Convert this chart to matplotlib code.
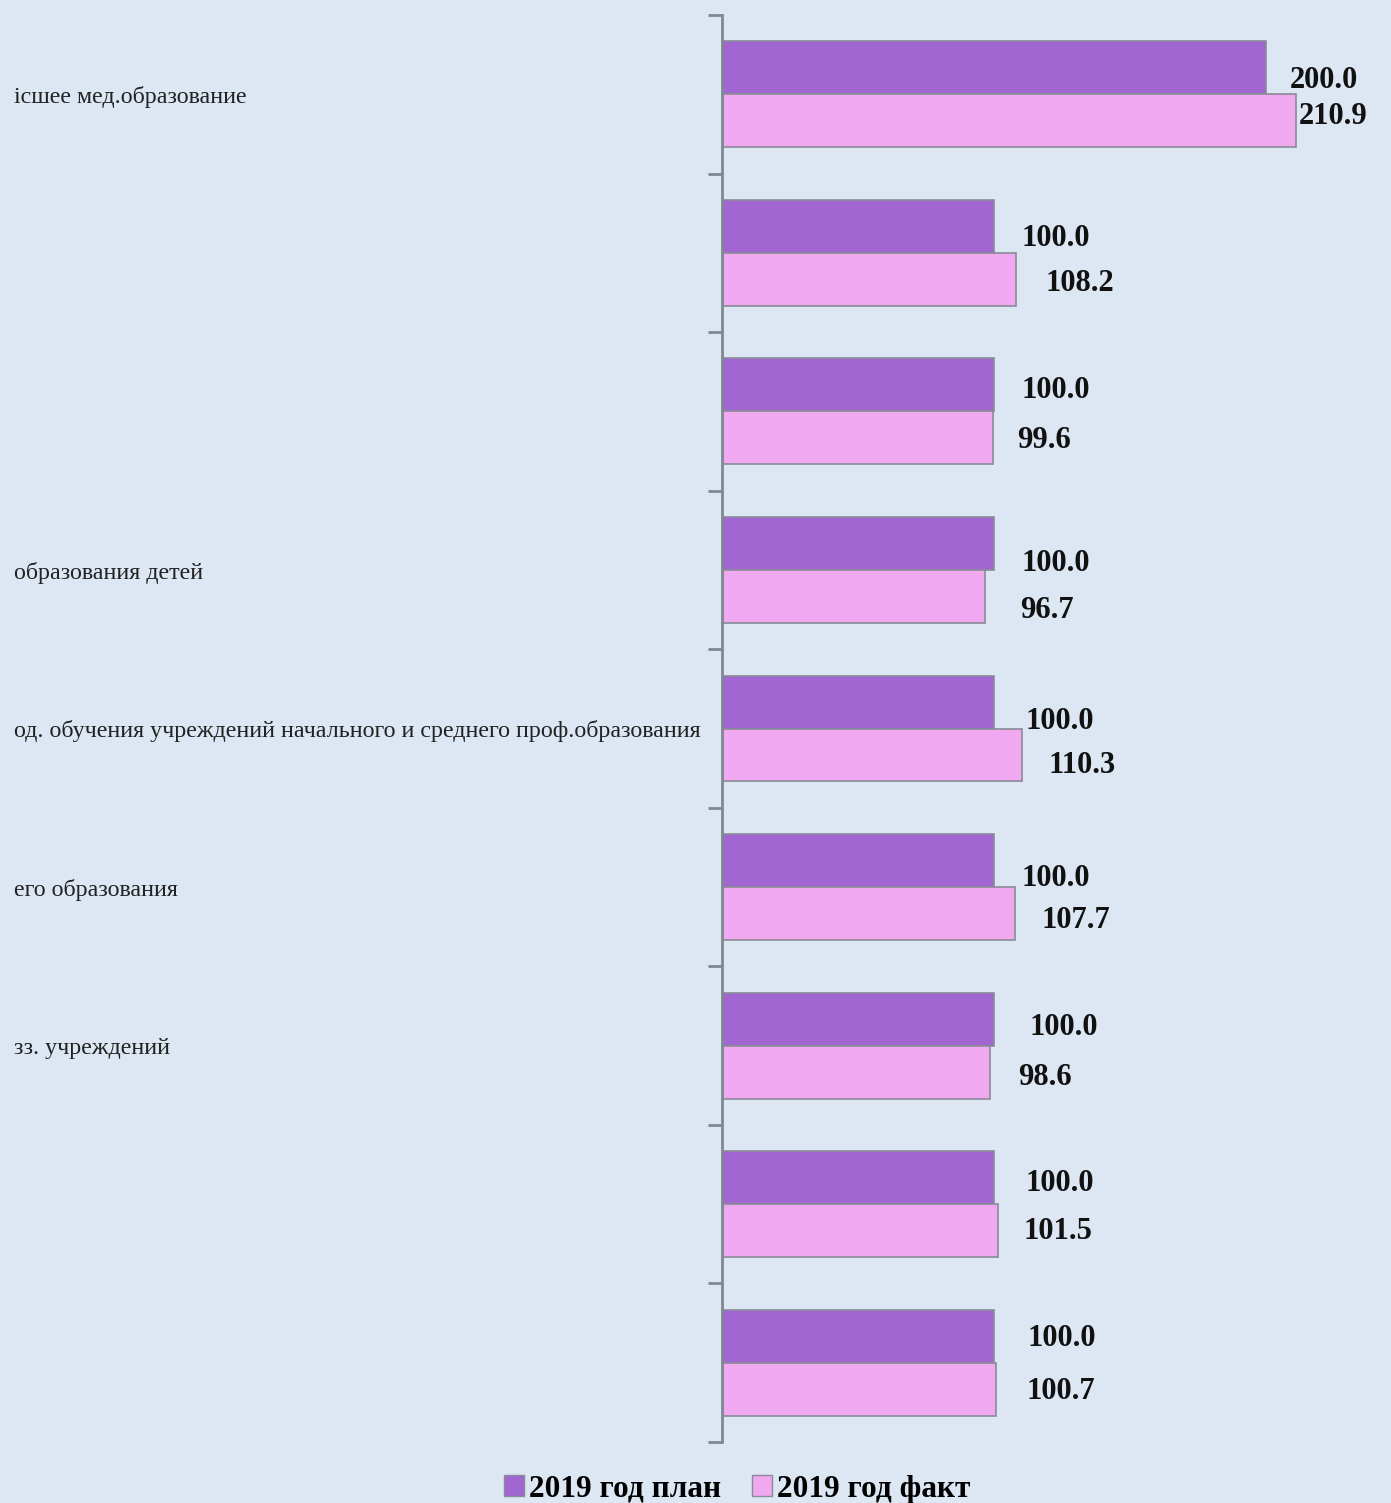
import matplotlib
matplotlib.use("Agg")
import matplotlib.pyplot as plt
import matplotlib.transforms as mtransforms
from matplotlib.patches import Patch

# Category labels (only the visible tail of each long label is shown)
categories = [
    "ісшее мед.образование",
    "",
    "",
    "образования детей",
    "од. обучения учреждений начального и среднего проф.образования",
    "его образования",
    "зз. учреждений",
    "",
    "",
]
plan_2019 = [200.0, 100.0, 100.0, 100.0, 100.0, 100.0, 100.0, 100.0, 100.0]
fact_2019 = [210.9, 108.2, 99.6, 96.7, 110.3, 107.7, 98.6, 101.5, 100.7]
series_names = ["2019 год план", "2019 год факт"]

# Hand-placed label offsets in pixels (dx to the right of the bar end,
# dy downward from the bar centre)
plan_dx = [24, 28, 28, 28, 31, 28, 36, 32, 34]
plan_dy = [13, 12, 6, 20, 19, 18, 8, 6, 2]
fact_dx = [3, 29, 24, 35, 26, 27, 28, 25, 31]
fact_dy = [-4, 4, 3, 14, 11, 7, 5, 1, 2]

BG = "#dce7f3"
PLAN_C = "#a266d2"
FACT_C = "#f0a8f0"
EDGE = "#8a8a98"

W, H, DPI = 1391, 1503, 100
fig = plt.figure(figsize=(W / DPI, H / DPI), dpi=DPI, facecolor=BG)

ax_left, ax_right = 722 / W, 1.0
ax_top, ax_bottom = 1 - 15 / H, 1 - 1442 / H
ax = fig.add_axes([ax_left, ax_bottom, ax_right - ax_left, ax_top - ax_bottom])
ax.set_facecolor(BG)

n = len(categories)
ypos = list(range(n))
bh = 0.334
px_per_unit = 2.72
ax.set_xlim(0, (W - 722) / px_per_unit)
ax.set_ylim(n - 0.5, -0.5)

ax.barh([y - bh / 2 for y in ypos], plan_2019, height=bh,
        color=PLAN_C, edgecolor=EDGE, linewidth=1.2)
ax.barh([y + bh / 2 for y in ypos], fact_2019, height=bh,
        color=FACT_C, edgecolor=EDGE, linewidth=1.2)

label_font = dict(family="Liberation Serif", fontsize=22, fontweight="bold",
                  color="#111111")
for i in range(n):
    ax.annotate(f"{plan_2019[i]:.1f}", xy=(plan_2019[i], i - bh / 2),
                xytext=(plan_dx[i], -plan_dy[i]), textcoords="offset pixels",
                ha="left", va="center", annotation_clip=False, **label_font)
    ax.annotate(f"{fact_2019[i]:.1f}", xy=(fact_2019[i], i + bh / 2),
                xytext=(fact_dx[i], -fact_dy[i]), textcoords="offset pixels",
                ha="left", va="center", annotation_clip=False, **label_font)

# Axis styling: only the left spine with ticks at category boundaries
for side in ("top", "right", "bottom"):
    ax.spines[side].set_visible(False)
ax.spines["left"].set_color("#7f8790")
ax.spines["left"].set_linewidth(2)
ax.set_xticks([])
ax.set_yticks([k - 0.5 for k in range(n + 1)])
ax.set_yticklabels([])
ax.tick_params(axis="y", length=10, width=2, color="#7f8790", direction="out")

# Category text, left-aligned near the figure edge
trans = mtransforms.blended_transform_factory(fig.transFigure, ax.transData)
trans = trans + mtransforms.ScaledTranslation(0, -3 / DPI, fig.dpi_scale_trans)
for i, lab in enumerate(categories):
    if lab:
        ax.text(14 / W, i, lab, transform=trans, ha="left", va="center",
                family="Liberation Serif", fontsize=17.3, color="#222222",
                clip_on=False)

handles = [Patch(facecolor=PLAN_C, edgecolor=EDGE, label=series_names[0]),
           Patch(facecolor=FACT_C, edgecolor=EDGE, label=series_names[1])]
fig.legend(handles=handles, loc="center", bbox_to_anchor=(737 / W, 1 - 1489 / H),
           ncol=2, frameon=False, handlelength=0.65, handleheight=0.65,
           handletextpad=0.15, columnspacing=1.0,
           prop=dict(family="Liberation Serif", size=22.5, weight="bold"))

fig.savefig("out.png", dpi=DPI, facecolor=BG)
